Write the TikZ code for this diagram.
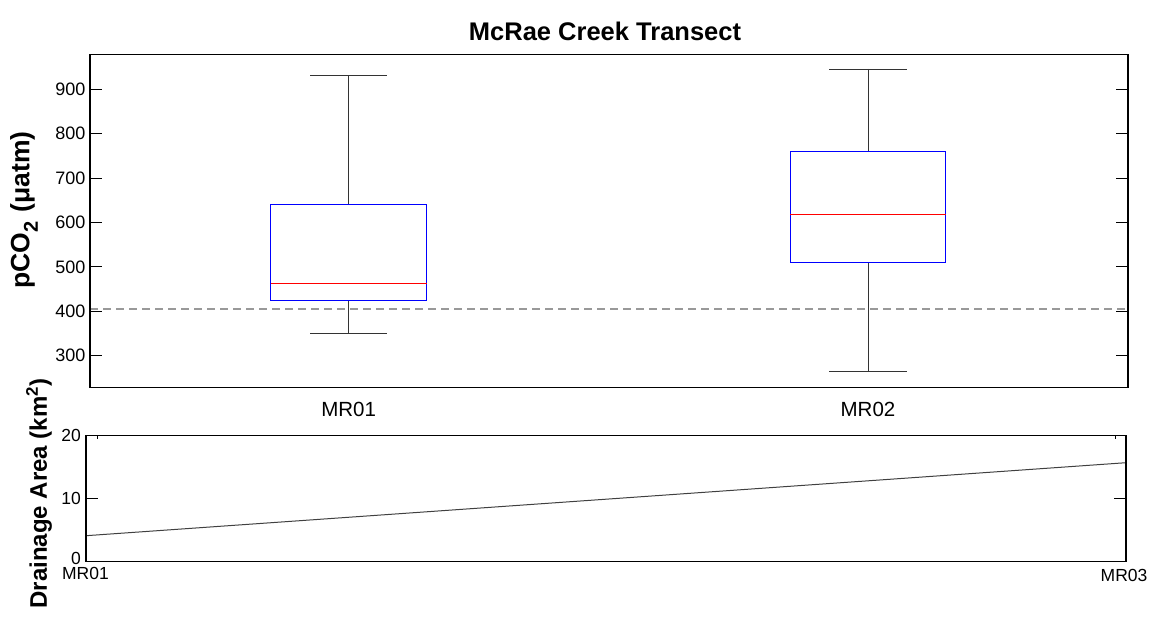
\documentclass[tikz,border=0pt]{standalone}
\usepackage{fontspec}
\setmainfont{Liberation Sans}
\begin{document}
\begin{tikzpicture}[x=1pt,y=-1pt,
  frame/.style={draw=black,line width=1.2pt},
  tickmark/.style={black,line width=0.9pt},
  whisk/.style={black!80,line width=0.9pt},
  boxs/.style={draw=blue,line width=1pt},
  med/.style={red,line width=1pt},
  refline/.style={black!40,dash pattern=on 8pt off 5pt,line width=1.4pt},
  ticklab/.style={font=\fontsize{18}{18}\selectfont,anchor=east,inner sep=0pt},
  catlab/.style={font=\fontsize{20.5}{20.5}\selectfont,inner sep=0pt},
  smalllab/.style={font=\fontsize{17.5}{17.5}\selectfont,inner sep=0pt},
  axlab/.style={font=\bfseries\fontsize{24}{24}\selectfont,rotate=90,inner sep=0pt}]
\useasboundingbox (0,0) rectangle (1153,620);
% ---------- top axes ----------
\node[font=\bfseries\fontsize{25.5}{25.5}\selectfont,inner sep=0pt] (title) at (605,31) {McRae Creek Transect};
% reference line 400 ppm
\draw[refline] (90,309) -- (1128,309);
% MR01 box
\draw[whisk] (348.7,75.7) -- (348.7,204.6);
\draw[whisk] (348.7,300.1) -- (348.7,333.5);
\draw[whisk] (310,75.7) -- (387.3,75.7);
\draw[whisk] (310,333.5) -- (387.3,333.5);
\draw[boxs] (270.7,204.6) rectangle (426.7,300.1);
\draw[med] (270.7,283.2) -- (426.7,283.2);
% MR02 box
\draw[whisk] (868,69) -- (868,151.2);
\draw[whisk] (868,262.4) -- (868,371.3);
\draw[whisk] (829.3,69) -- (906.7,69);
\draw[whisk] (829.3,371.3) -- (906.7,371.3);
\draw[boxs] (790,151.2) rectangle (945.7,262.4);
\draw[med] (790,214.3) -- (945.7,214.3);
% frame
\draw[frame] (90,54.3) rectangle (1128,387.3);
% y ticks
\foreach \v/\yy in {900/89,800/133.5,700/178,600/222.4,500/266.9,400/311.3,300/355.8}{
  \draw[tickmark] (90,\yy) -- (102,\yy);
  \draw[tickmark] (1116,\yy) -- (1128,\yy);
  \node[ticklab] (t\v) at (85.5,\yy) {\v};
}
\node[catlab] (mr01) at (348.7,409) {MR01};
\node[catlab] (mr02) at (868,409) {MR02};
\node[axlab,font=\bfseries\fontsize{26.5}{26.5}\selectfont] (ylab1) at (24,210)
  {pCO\raisebox{-0.32em}{\fontsize{20}{20}\selectfont 2}\,\,(μatm)};
% ---------- bottom axes ----------
\draw[black!75,line width=1pt] (86,535.7) -- (1126,462.7);
\draw[frame] (86,435.7) rectangle (1126,561.5);
\foreach \v/\yy in {20/435.7,10/498.6}{
  \draw[tickmark] (86,\yy) -- (98,\yy);
  \draw[tickmark] (1114,\yy) -- (1126,\yy);
  \node[smalllab,anchor=east] (b\v) at (81,\yy) {\v};
}
\draw[tickmark] (86,561.5) -- (98,561.5);
\draw[tickmark] (1114,561.5) -- (1126,561.5);
\node[smalllab,anchor=east] (b0) at (81,558) {0};
\draw[tickmark] (97.5,435.7) -- (97.5,439);
\draw[tickmark] (1115,435.7) -- (1115,439);
\node[smalllab] (xl1) at (85.5,573.5) {MR01};
\node[smalllab] (xl3) at (1124,575) {MR03};
\node[axlab] (ylab2) at (39,493.5) {Drainage Area (km\textsuperscript{2})};
\end{tikzpicture}
\end{document}
